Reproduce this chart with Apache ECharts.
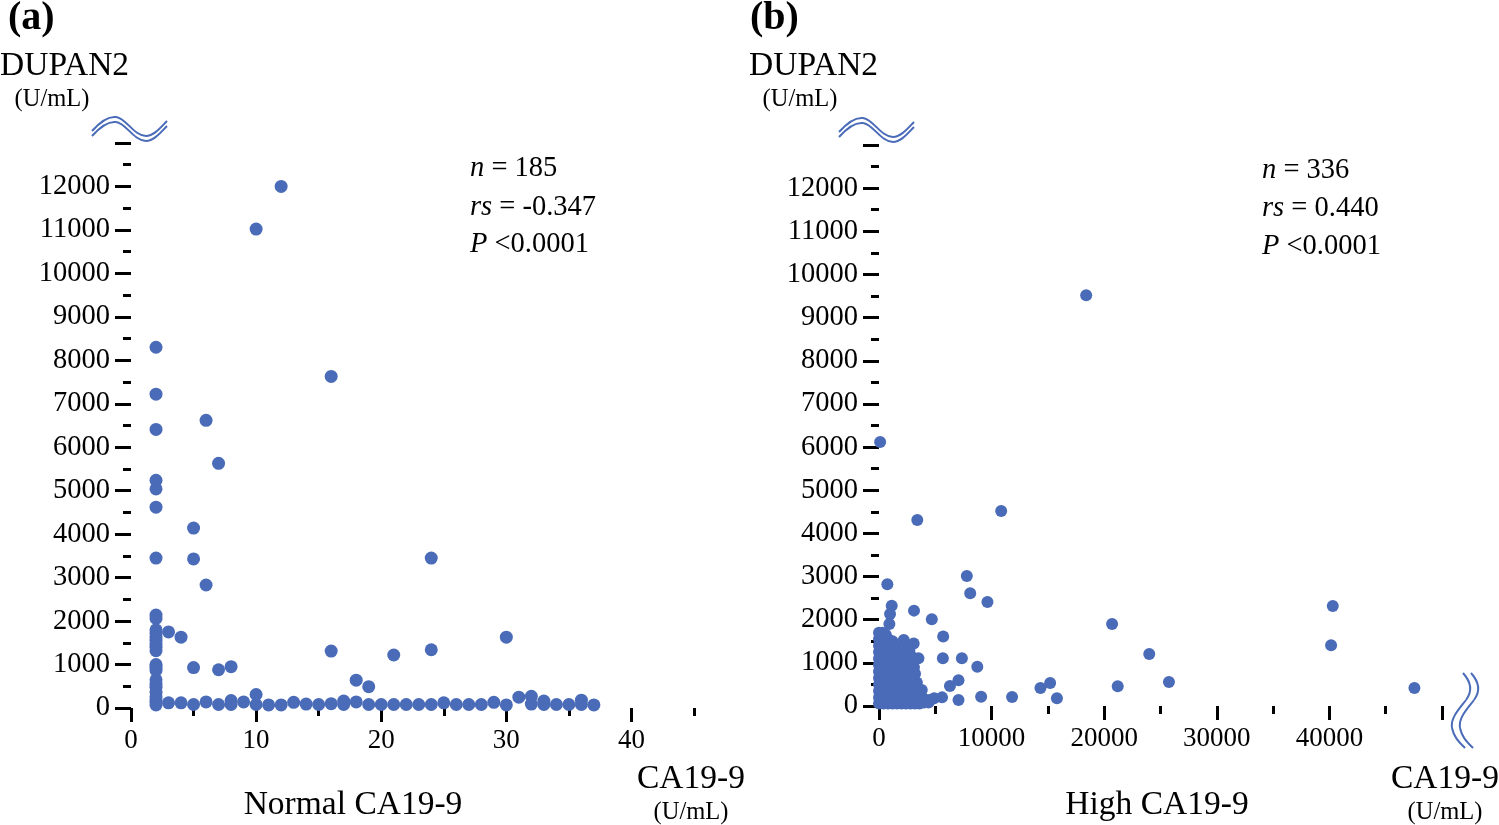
<!DOCTYPE html>
<html><head><meta charset="utf-8">
<script src="https://cdn.jsdelivr.net/npm/echarts@6/dist/echarts.min.js"></script>
<style>html,body{margin:0;padding:0;background:#fff}#c{width:1499px;height:825px}</style>
</head><body><div id="c"></div>
<script>
// ---- Panel (a): Normal CA19-9 ----
const normalCA199 = [
  2,2,2,2,2,2,2,2,2,2,2,2,2,2,2,2,2,2,2,2,2,2,2,2,2,2,2,
  3,4,5,5,5,6,6,7,7,8,10,10,12,16,16,18,19,21,24,24,30,31,32,33,36,
  3,4,5,6,7,8,8,9,10,11,12,13,14,15,16,17,17,18,19,20,21,22,23,24,25,26,27,28,29,30,32,33,34,35,36,37
];
const normalDUPAN2 = [
  8300,7220,6410,5240,5040,4620,3450,2140,2060,1800,1720,1640,1560,1480,1400,1320,1000,940,870,650,560,480,360,260,190,130,70,
  1750,1630,4140,3430,930,6620,2830,5630,880,950,11020,310,12000,7630,1310,640,490,1220,3450,1340,1630,250,270,160,180,
  120,120,80,140,80,170,80,140,80,70,70,130,90,80,100,160,80,140,80,80,80,80,80,80,120,80,80,80,130,70,90,80,80,80,80,70
];
// ---- Panel (b): High CA19-9 ----
const highCA199 = [
  18400,100,3400,10850,7800,8100,9630,40300,20700,40150,24000,25750,47550,21200,14340,15200,15800,11820,9070,740,
  1130,980,3110,4690,920,5700,2200,3080,3500,5670,7360,8730,7060,6300,3360,3800,7060,5600,4900,4540,4200,
  0,300,600,
  200,500,
  0,400,800,1200,
  200,600,1000,
  0,500,1000,1500,1900,
  200,700,1200,1700,2200,
  0,400,900,1400,1900,2400,2700,
  200,700,1200,1700,2200,2800,
  0,500,1000,2000,2500,3000,
  200,700,1200,1700,2300,2800,
  0,400,900,1400,2000,2600,3100,
  200,700,1200,1800,2400,2900,
  0,500,1000,1500,2100,2700,3200,
  200,700,1200,1800,2500,3000,
  0,400,900,1700,2300,
  200,700,1200,1800,2400,
  0,500,1000,1500,2000,2500,
  200,700,1200,1700,2200,2800,3300,
  0,400,900,1400,1900,2500,3000,3500,
  200,700,1200,1700,2200,2700,3200,3700,
  0,500,1000,1500,2000,2500,3000,3500,4000,
  200,700,1200,1700,2200,2700,3200,3800,4300,
  0,400,800,1200,1600,2000,2400,2800,3200,3600,4000,4400
];
const highDUPAN2 = [
  9520,6120,4310,4520,3015,2615,2410,2320,1900,1410,1205,555,415,460,415,535,180,210,215,2820,
  2325,2130,2210,2010,1900,1610,1530,1450,1105,1105,1105,911,595,463,545,370,140,200,180,140,140,
  1700,1700,1650,
  1625,1625,
  1550,1550,1550,1500,
  1475,1475,1475,
  1400,1400,1400,1350,1300,
  1325,1325,1325,1325,1325,
  1250,1250,1250,1200,1200,1250,1300,
  1175,1175,1175,1175,1175,1175,
  1100,1100,1100,1100,1050,1100,
  1025,1025,1025,1025,1025,1025,
  950,950,950,950,950,950,900,
  875,875,875,875,875,875,
  800,800,800,800,800,800,750,
  725,725,725,725,725,725,
  650,650,650,650,650,
  575,575,575,575,575,
  500,500,500,500,500,500,
  425,425,425,425,425,425,425,
  350,350,350,350,350,350,300,300,
  275,275,275,275,275,275,275,275,
  200,200,200,200,200,200,200,150,150,
  130,130,130,130,130,130,130,130,130,
  60,60,60,60,60,60,60,60,60,60,80,80
];
// ---- Tick labels ----
const normalXTicks = [0,10,20,30,40];
const normalXMinorTicks = [5,15,25,35,45];
const highXTicks = [0,10000,20000,30000,40000];

const FONT = "'Liberation Serif','Times New Roman',serif";
const BLUE = '#4a6bb8';
const zip = (xs, ys) => xs.map((x, i) => [x, ys[i]]);

const chart = echarts.init(document.getElementById('c'));

const tickStyle = {color:'#000', width:3};
const yAxisBase = (gi) => ({
  gridIndex: gi, type:'value', min:0, max:13000, interval:1000,
  axisLine:{show:false}, splitLine:{show:false},
  axisTick:{show:true, length:16, lineStyle:tickStyle},
  minorTick:{show:true, splitNumber:2, length:8, lineStyle:tickStyle},
  axisLabel:{margin:21, fontSize:28.5, fontFamily:FONT, color:'#000',
    formatter: v => v === 13000 ? '' : String(v)}
});

function bez(segs, dx, dy) {
  return segs.map(s => ({
    type:'bezierCurve', silent:true,
    shape:{x1:s[0]+dx, y1:s[1]+dy, cpx1:s[2]+dx, cpy1:s[3]+dy, cpx2:s[4]+dx, cpy2:s[5]+dy, x2:s[6]+dx, y2:s[7]+dy},
    style:{stroke:BLUE, lineWidth:2, fill:null}
  }));
}
const hWave = [
  [92,131, 100,122, 108,116, 116,117],
  [116,117, 126,118, 134,136, 146,136],
  [146,136, 154,136, 161,127, 167,121]
];
const vWave = [
  [1463,673, 1472,683, 1472,692, 1466,700],
  [1466,700, 1460,708, 1450,718, 1452,728],
  [1452,728, 1454,738, 1460,743, 1465,748]
];
function txt(text, x, y, size, align) {
  return {type:'text', x:x, y:y, silent:true,
    style:{text:text, fontSize:size, fontFamily:FONT, fill:'#000', align:align||'left', verticalAlign:'middle'}};
}
function stat(text, x, y) {
  return {type:'text', x:x, y:y, silent:true, style:{
    text:text, fontSize:28.5, fontFamily:FONT, fill:'#000', verticalAlign:'middle',
    rich:{i:{fontStyle:'italic', fontSize:28.5, fontFamily:FONT, fill:'#000'},
          n:{fontSize:28.5, fontFamily:FONT, fill:'#000'}}
  }};
}

const graphics = [].concat(
  bez(hWave, 0, 0), bez(hWave, 0, 5),
  bez(hWave, 747, 1), bez(hWave, 747, 6),
  bez(vWave, 0, 0), bez(vWave, 8, 0),
  [
    {type:'text', x:8, y:19, silent:true, style:{text:'(a)', fontSize:40, fontWeight:'bold', fontFamily:FONT, fill:'#000', verticalAlign:'middle'}},
    {type:'text', x:750, y:19, silent:true, style:{text:'(b)', fontSize:40, fontWeight:'bold', fontFamily:FONT, fill:'#000', verticalAlign:'middle'}},
    txt('DUPAN2', 0, 66, 33.5),
    txt('(U/mL)', 52, 100, 24.5, 'center'),
    txt('DUPAN2', 749, 66, 33.5),
    txt('(U/mL)', 800, 100, 24.5, 'center'),
    txt('CA19-9', 691, 779, 33.5, 'center'),
    txt('(U/mL)', 691, 813, 24.5, 'center'),
    txt('CA19-9', 1445, 779, 33.5, 'center'),
    txt('(U/mL)', 1445, 813, 24.5, 'center'),
    txt('Normal CA19-9', 353, 805, 33.5, 'center'),
    txt('High CA19-9', 1157, 805, 33.5, 'center'),
    stat('{i|n}{n| = 185}', 470, 169),
    stat('{i|rs}{n| = -0.347}', 470, 208),
    stat('{i|P}{n| <0.0001}', 470, 245),
    stat('{i|n}{n| = 336}', 1262, 171),
    stat('{i|rs}{n| = 0.440}', 1262, 209),
    stat('{i|P}{n| <0.0001}', 1262, 247)
  ]
);

chart.setOption({
  animation:false,
  backgroundColor:'#fff',
  grid:[
    {left:131, top:143, width:563, height:565, outerBoundsMode:'none'},
    {left:879, top:145, width:563, height:561, outerBoundsMode:'none'},
    {left:131, top:143, width:563, height:565, outerBoundsMode:'none'}
  ],
  xAxis:[
    {gridIndex:0, type:'value', min:0, max:45,
      axisLine:{show:false}, splitLine:{show:false},
      axisTick:{show:true, customValues:normalXTicks, length:14, lineStyle:tickStyle},
      axisLabel:{customValues:normalXTicks, margin:19, fontSize:27, fontFamily:FONT, color:'#000', formatter: v => String(v)}},
    {gridIndex:1, type:'value', min:0, max:50000, interval:10000,
      axisLine:{show:false}, splitLine:{show:false},
      axisTick:{show:true, length:14, lineStyle:tickStyle},
      minorTick:{show:true, splitNumber:2, length:8, lineStyle:tickStyle},
      axisLabel:{margin:19, fontSize:27, fontFamily:FONT, color:'#000',
        formatter: v => highXTicks.indexOf(v) >= 0 ? String(v) : ''}},
    {gridIndex:2, type:'value', min:0, max:45,
      axisLine:{show:false}, splitLine:{show:false},
      axisTick:{show:true, customValues:normalXMinorTicks, length:8, lineStyle:tickStyle},
      axisLabel:{show:false}}
  ],
  yAxis:[
    yAxisBase(0),
    yAxisBase(1),
    {gridIndex:2, type:'value', min:0, max:13000, show:false}
  ],
  series:[
    {type:'scatter', xAxisIndex:0, yAxisIndex:0, data:zip(normalCA199, normalDUPAN2),
      symbolSize:13, clip:false, itemStyle:{color:BLUE, opacity:1}},
    {type:'scatter', xAxisIndex:1, yAxisIndex:1, data:zip(highCA199, highDUPAN2),
      symbolSize:12, clip:false, itemStyle:{color:BLUE, opacity:1}}
  ],
  graphic: graphics
});
</script>
</body></html>
